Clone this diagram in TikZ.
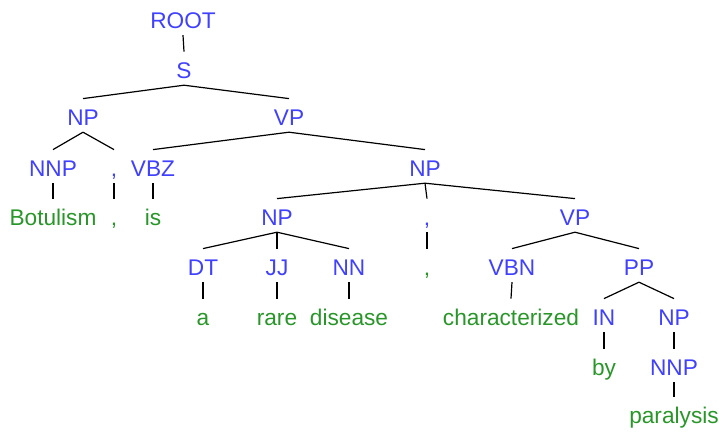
\documentclass[tikz,border=0pt]{standalone}
\usepackage{fontspec}
\setmainfont{Liberation Sans}
\usepackage{xcolor}
\definecolor{tagBlue}{RGB}{64, 64, 255}
\definecolor{wordGreen}{RGB}{40, 150, 40}

\begin{document}
\begin{tikzpicture}
    [
        x=0.75pt, y=-0.75pt,
        label/.style={
            anchor=base, inner sep=0pt,
            text height=19.6pt, text depth=5.2pt,
            font=\fontsize{17}{20}\selectfont
        },
        tag/.style={label, text=tagBlue},
        word/.style={label, text=wordGreen},
        branch/.style={draw=black, line width=0.9pt}
    ]

\useasboundingbox (0,0) rectangle (719,432);

% Tags
\node (root) [tag] at (183,28) {ROOT};
\node (s) [tag] at (184,78) {S};

\node (np-subj) [tag] at (83,125) {NP};
\node (vp-main) [tag] at (289,125) {VP};

\node (nnp-subj) [tag] at (53,176) {NNP};
\node (comma-tag-a) [tag] at (114,176) {,};
\node (vbz) [tag] at (153,176) {VBZ};
\node (np-pred) [tag] at (425,176) {NP};

\node (np-disease) [tag] at (277,225) {NP};
\node (comma-tag-b) [tag] at (427,225) {,};
\node (vp-rel) [tag] at (575,225) {VP};

\node (dt) [tag] at (203,275) {DT};
\node (jj) [tag] at (277,275) {JJ};
\node (nn) [tag] at (349,275) {NN};
\node (vbn) [tag] at (512,275) {VBN};
\node (pp) [tag] at (639,275) {PP};

\node (in) [tag] at (604,325) {IN};
\node (np-obj) [tag] at (674,325) {NP};

\node (nnp-obj) [tag] at (674,375) {NNP};

% Words
\node (botulism) [word] at (53,225) {Botulism};
\node (comma-a) [word] at (114,225) {,};
\node (is) [word] at (153,225) {is};

\node (comma-b) [word] at (427,275) {,};

\node (a) [word] at (203,325) {a};
\node (rare) [word] at (277,325) {rare};
\node (disease) [word] at (349,325) {disease};
\node (characterized) [word] at (511,325) {characterized};

\node (by) [word] at (604,375) {by};
\node (paralysis) [word] at (674,423) {paralysis};

% Branches
\draw [branch] (root.south) -- (s.north);
\draw [branch] (s.south) -- (np-subj.north);
\draw [branch] (s.south) -- (vp-main.north);

\draw [branch] (np-subj.south) -- (nnp-subj.north);
\draw [branch] (np-subj.south) -- (comma-tag-a.north);
\draw [branch] (vp-main.south) -- (vbz.north);
\draw [branch] (vp-main.south) -- (np-pred.north);

\draw [branch] (nnp-subj.south) -- (botulism.north);
\draw [branch] (comma-tag-a.south) -- (comma-a.north);
\draw [branch] (vbz.south) -- (is.north);
\draw [branch] (np-pred.south) -- (np-disease.north);
\draw [branch] (np-pred.south) -- (comma-tag-b.north);
\draw [branch] (np-pred.south) -- (vp-rel.north);

\draw [branch] (np-disease.south) -- (dt.north);
\draw [branch] (np-disease.south) -- (jj.north);
\draw [branch] (np-disease.south) -- (nn.north);
\draw [branch] (comma-tag-b.south) -- (comma-b.north);
\draw [branch] (vp-rel.south) -- (vbn.north);
\draw [branch] (vp-rel.south) -- (pp.north);

\draw [branch] (dt.south) -- (a.north);
\draw [branch] (jj.south) -- (rare.north);
\draw [branch] (nn.south) -- (disease.north);
\draw [branch] (vbn.south) -- (characterized.north);
\draw [branch] (pp.south) -- (in.north);
\draw [branch] (pp.south) -- (np-obj.north);

\draw [branch] (in.south) -- (by.north);
\draw [branch] (np-obj.south) -- (nnp-obj.north);
\draw [branch] (nnp-obj.south) -- (paralysis.north);

\end{tikzpicture}
\end{document}
